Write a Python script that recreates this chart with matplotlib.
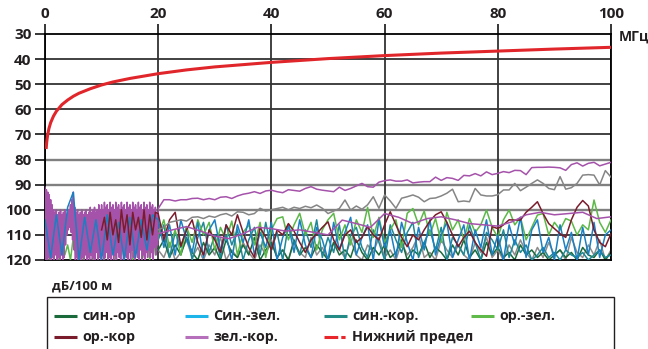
import numpy as np
import matplotlib
matplotlib.use("Agg")
import matplotlib.pyplot as plt
from matplotlib.lines import Line2D
from matplotlib.patches import Rectangle

plt.rcParams["font.family"] = ["Open Sans", "DejaVu Sans"]

W, H = 648, 349

# frequency grids, MHz
f_eighth = np.arange(0, 20, 0.125)
f_half = np.arange(0, 20, 0.5)
f_one = np.arange(0, 20, 1)
f_mid = np.arange(10, 20, 0.5)
f_step = np.arange(20, 101, 1)
f_wave = np.arange(20, 101, 2.5)

# lower limit curve
limit_f = [0.2, 0.3, 0.4, 0.5, 0.7, 1, 1.5, 2, 3, 4, 5, 6, 8, 10, 12, 15,
           20, 25, 30, 40, 50, 60, 70, 80, 90, 100]
limit_db = [75.8, 73.1, 71.3, 69.8, 67.6, 65.3, 62.7, 60.8, 58.1, 56.3, 54.8,
            53.6, 51.8, 50.3, 49.1, 47.7, 45.8, 44.3, 43.1, 41.3, 39.8, 38.6,
            37.6, 36.8, 36.0, 35.3]

# зел.-кор. (upper trace)
zel_kor_lo = [91, 120, 92, 120, 93, 119, 94, 120, 96, 120,
              98, 119, 100, 120, 101, 118, 100, 120, 102, 119,
              101, 120, 100, 118, 102, 120, 101, 119, 100, 114,
              102, 110, 101, 108, 100, 107, 98, 109, 96, 112,
              93, 116, 99, 120, 101, 119, 100, 120, 102, 118,
              101, 120, 100, 119, 102, 120, 101, 118, 100, 120,
              102, 119, 101, 120, 99, 118, 101, 120, 100, 119,
              99, 120, 101, 117, 100, 120, 98, 119, 100, 120,
              98, 118, 100, 120, 97, 119, 99, 117, 98, 120,
              100, 119, 97, 120, 99, 116, 98, 120, 100, 118,
              97, 120, 99, 117, 98, 119, 100, 120, 97, 116,
              99, 120, 98, 118, 100, 119, 97, 120, 99, 117,
              98, 120, 100, 116, 97, 119, 99, 120, 98, 117,
              100, 119, 97, 120, 99, 116, 98, 120, 100, 118,
              97, 120, 99, 117, 98, 119, 100, 116, 97, 119,
              99, 117, 98, 120, 100, 115, 99, 118, 101, 114]
zel_kor_hi = [99.5, 96, 96, 96.5, 96, 96, 95.5, 95.4, 96, 95.5,
              96, 95, 94.8, 95.5, 94.5, 93.8, 93.4, 92.8, 93.5, 92.5,
              92.2, 92.8, 93.2, 92, 92.3, 92.6, 91.5, 90.8, 91.8, 92.2,
              92.5, 92.8, 91, 92.3, 91.5, 90.5, 89.5, 90.8, 91, 89,
              88.4, 88.1, 88.6, 88.6, 88.1, 89.3, 89, 88.8, 88.8, 87,
              88.3, 87.2, 87.5, 88.3, 86.3, 86.5, 85.6, 86.5, 84.9, 86,
              85.5, 84.8, 85.2, 84.3, 84.4, 86, 83.2, 83.1, 83.1, 83,
              83.1, 83.3, 84.3, 82, 81.3, 82.6, 81.5, 81.1, 82.5, 81.8,
              81.1]
# зел.-кор. (second, smoother trace)
zel_kor_b = [109.5, 108, 106.7, 108.5, 110.5, 111.5, 109.5, 107, 107.5, 108.5,
             108, 109, 110, 104.1, 105.5, 107, 101.5, 103, 105.5, 103.5,
             102.8, 104, 105.5, 106, 106.5, 104.8, 102, 101, 102, 101.5,
             101, 103.5, 102.8]

# unlabelled grey traces
grey_hi = [108, 107, 105, 104.5, 104, 104.5, 103, 102.8, 103.5, 102.5,
           103, 102, 101.5, 102.5, 100.8, 101, 102, 101.5, 99.4, 100.5,
           100, 99.5, 99, 100, 99, 99.5, 98.6, 99.2, 98.1, 99.4,
           101.5, 100.5, 99.5, 96.1, 100.1, 98.5, 99.8, 98, 94.8, 99.4,
           94.1, 96.5, 99.4, 95.4, 94.8, 94.1, 95, 96.8, 95.5, 95.3,
           94.5, 93.4, 91.8, 96.8, 96.5, 96.8, 91.5, 94.1, 94.5, 94.5,
           94, 92.1, 92.1, 89.5, 92.4, 91, 89.5, 88.1, 89.5, 91.5,
           92, 86.8, 91.8, 91.2, 89.5, 86.2, 86, 86.2, 90.1, 84.4,
           87]
grey_lo = [116, 119, 113, 120, 117, 112, 119, 115, 120, 114,
           118, 111, 120, 116, 119, 113, 117, 120, 114, 118,
           112, 119, 116, 120, 113, 117, 119, 111, 118, 115,
           120, 113, 116, 119, 112, 118, 120, 114, 117, 111,
           119, 116, 120, 113, 118, 115, 110, 119, 117, 120,
           112, 116, 119, 114, 118, 120, 113, 117, 111, 119,
           116, 120, 114, 118, 112, 117, 120, 115, 119, 113,
           118, 116, 120, 111, 117, 119, 114, 118, 112, 120,
           116]

# Син.-зел.
sin_zel_lo = [104, 119, 102, 118, 99, 93, 120, 103, 117, 104,
              120, 102, 118, 105, 120, 103, 119, 104, 116, 102]
sin_zel_hi = [104, 115, 106, 118, 104, 112, 117, 105, 119, 108,
              104, 116, 110, 120, 106, 113, 104, 118, 109, 115,
              105, 120, 111, 106, 117, 104, 114, 119, 107, 112,
              120, 105, 116, 109, 103, 118, 111, 106, 120, 104,
              115, 108, 119, 105, 113, 120, 107, 116, 104, 118,
              110, 105, 119, 112, 106, 120, 108, 115, 104, 118,
              110, 120, 106, 114, 103, 119, 108, 104, 117, 111,
              120, 106, 116, 109, 120, 107, 118, 105, 119, 110,
              108]

# син.-кор.
sin_kor_hi = [112, 106, 119, 109, 115, 107, 120, 111, 105, 117,
              110, 119, 106, 114, 108, 120, 112, 107, 118, 105,
              116, 109, 120, 106, 113, 118, 108, 115, 104, 119,
              111, 117, 106, 120, 110, 107, 115, 119, 108, 113,
              120, 106, 112, 117, 109, 105, 119, 113, 108, 116,
              107, 120, 111, 114, 118, 106, 113, 120, 109, 112,
              116, 108, 119, 112, 117, 114, 120, 118, 115, 119,
              117, 120, 116, 118, 119, 117, 120, 118, 116, 119,
              118]

# син.-ор
sin_or_hi = [116, 112, 119, 114, 118, 111, 117, 120, 113, 118,
             115, 120, 112, 117, 119, 114, 118, 111, 120, 116,
             113, 119, 116, 120, 112, 118, 115, 119, 114, 117,
             120, 113, 118, 116, 119, 112, 117, 120, 115, 118,
             114, 119, 117, 112, 120, 116, 118, 113, 119, 115,
             117, 120, 114, 118, 112, 119, 116, 120, 113, 118,
             115, 119, 117, 120, 114, 118, 116, 119, 117, 120,
             118, 116, 119, 117, 120, 115, 118, 119, 116, 120,
             117]

# ор.-зел.
or_zel_lo = [113, 120, 110, 119, 112, 120, 109, 118, 114, 120,
             111, 119, 108, 120, 112, 118, 110, 120, 109, 117,
             112, 120, 108, 119, 111, 120, 107, 118, 110, 119,
             108, 120, 111, 117, 106, 119, 109, 120, 107, 118]
or_zel_hi = [110, 104, 115, 108, 118, 106.7, 113, 104, 110, 105,
             116, 107, 112, 104.5, 118, 109, 106, 114, 105, 119,
             108, 103.5, 102.8, 112, 106, 101.4, 110, 105, 116, 108,
             104, 101.4, 112, 106, 114, 104, 109, 99, 111, 103,
             113, 108, 104, 115, 101.4, 99.5, 106, 100.5, 110, 103.5,
             113, 101, 108, 104, 112, 103.5, 109, 106, 100.1, 107,
             111, 104, 100.1, 106, 103, 112, 107, 102.1, 101.5, 110,
             105, 108, 103.5, 104.5, 110, 106, 108, 96.1, 105, 109,
             104]

# ор.-кор
or_kor_mid = [108, 103, 112, 101, 110, 104, 113, 100, 109, 102,
              114, 101, 108, 103, 111, 100, 112, 102, 110, 101]
or_kor_hi = [101.5, 112, 104, 101, 114.5, 108, 104, 113, 118, 108,
             112, 117, 106, 110, 102, 109, 115, 119, 107, 111,
             116, 108, 110, 105.5, 108.5, 113, 117, 112, 109.5, 107,
             104.8, 112, 116, 110, 108, 113, 111, 106.7, 110, 112,
             106, 100.8, 106, 111, 114.7, 110, 112, 108, 104.5, 102,
             100.8, 105, 110, 114.7, 111, 108.5, 113, 116, 118.5, 106.7,
             107.5, 106, 104, 104.1, 104.1, 101, 99, 96.8, 101.5, 105.5,
             107.5, 109.5, 111, 104, 99, 96.3, 98.5, 108, 113, 114.7,
             109.5]

legend_rows = [
    [("син.-ор", "#1a6a3c", "-"), ("Син.-зел.", "#1db4ea", "-"),
     ("син.-кор.", "#248a86", "-"), ("ор.-зел.", "#5fba4a", "-")],
    [("ор.-кор", "#7a1c2c", "-"), ("зел.-кор.", "#b56fbb", "-"),
     ("Нижний предел", "#e8262c", "dashdot")],
]

TEXT = "#231f20"


def fx(x):
    return x / W


def fy(y):
    return 1 - y / H


fig = plt.figure(figsize=(W / 100, H / 100), dpi=100)
ax = fig.add_axes([fx(45), fy(260), fx(611) - fx(45), fy(34) - fy(260)])

lw = 1.1
ax.plot(f_step, grey_lo, color="#8c8c8c", lw=lw, zorder=2)
ax.plot(f_step, sin_or_hi, color="#1a6a3c", lw=lw, zorder=2)
ax.plot(f_step, sin_kor_hi, color="#1f8796", lw=lw, zorder=3)
ax.plot(np.r_[f_half, f_step], or_zel_lo + or_zel_hi, color="#5cb848", lw=lw, zorder=3)
ax.plot(np.r_[f_eighth, f_step], zel_kor_lo + zel_kor_hi, color="#a552aa", lw=lw, zorder=4)
ax.plot(np.r_[f_one, f_step], sin_zel_lo + sin_zel_hi, color="#1a7fc3", lw=lw, zorder=5)
ax.plot(np.r_[f_mid, f_step], or_kor_mid + or_kor_hi, color="#7b1c2c", lw=lw, zorder=6)
ax.plot(f_wave, zel_kor_b, color="#a552aa", lw=lw, zorder=6)
ax.plot(f_step, grey_hi, color="#858585", lw=lw, zorder=6)
ax.plot(limit_f, limit_db, color="#e0262b", lw=2.2, zorder=8,
        solid_capstyle="butt")

ax.set_xlim(0, 100)
ax.set_ylim(120, 30)
ax.set_xticks(range(0, 101, 20))
ax.set_yticks(range(30, 121, 10))
ax.xaxis.tick_top()
ax.tick_params(axis="both", length=7.2, width=1.1, color="black", pad=2.5,
               labelsize=11)
for lab in ax.get_xticklabels() + ax.get_yticklabels():
    lab.set_fontweight("bold")
    lab.set_color(TEXT)

# grid: dark thin lines, with wider grey ones at 80-100 dB
ax.grid(True, axis="x", color="#333333", lw=1.3, zorder=1)
for v in range(40, 120, 10):
    grey = 80 <= v <= 100
    ax.axhline(v, color="#808080" if grey else "#333333",
               lw=1.7 if grey else 1.3, zorder=1)
for s in ax.spines.values():
    s.set_color("black")
    s.set_linewidth(1.3)

fig.text(fx(619), fy(37), "МГц", fontsize=10, fontweight="bold",
         ha="left", va="center", color=TEXT)
fig.text(fx(52), fy(286), "дБ/100 м", fontsize=9.5, fontweight="bold",
         ha="left", va="center", color=TEXT)

fig.add_artist(Rectangle((fx(47), -0.1), fx(614) - fx(47), fy(297) + 0.1,
                         transform=fig.transFigure, fill=False,
                         edgecolor=TEXT, lw=1.0))

col_x = [54, 185, 324, 471]
row_y = [316, 337]
for row, y in zip(legend_rows, row_y):
    for (label, color, style), x in zip(row, col_x):
        line = Line2D([fx(x), fx(x + 23)], [fy(y), fy(y)],
                      transform=fig.transFigure, color=color, lw=2.2,
                      solid_capstyle="butt", dash_capstyle="butt")
        if style == "dashdot":
            line.set_dashes((4.5, 1.0, 1.4, 1.0))
        fig.add_artist(line)
        fig.text(fx(x + 28), fy(y), label, fontsize=10.3, fontweight="bold",
                 ha="left", va="center", color=TEXT)

fig.savefig("out.png", dpi=100)
